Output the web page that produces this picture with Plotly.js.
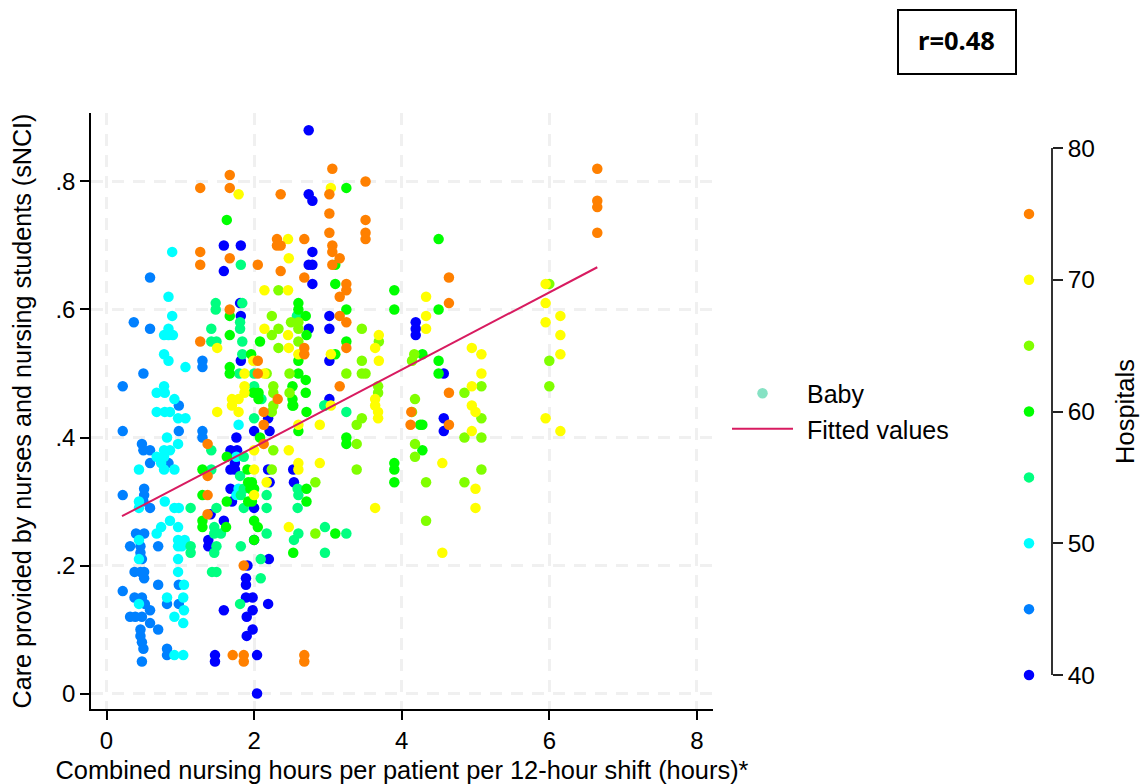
<!DOCTYPE html>
<html>
<head>
<meta charset="utf-8">
<script src="https://cdn.plot.ly/plotly-3.0.1.min.js"></script>
<style>html,body{margin:0;padding:0;background:#fff}
.legend .legendtext{transform:translateX(9px)}
.legend .scrollbox{clip-path:none !important}</style>
</head>
<body>
<div id="chart" style="width:1140px;height:784px"></div>
<script>
const hospitalBands = [40,45,50,55,60,65,70,75];
const bandColors = ['#0000ff','#0080ff','#00ffff','#00ff80','#00ff00','#80ff00','#ffff00','#ff8000'];
const group40 = [[2.74,.88],[2.74,.78],[2.79,.77],[2.79,.69],[2.74,.67],[2.79,.67],[2.79,.64],[3.02,.59],[2.74,.57],[3.02,.57],[3.02,.52],[3.02,.46],[4.19,.58],[4.19,.57],[4.19,.56],[4.57,.50],[4.57,.43],[4.57,.41],[1.59,.70],[1.82,.70],[1.59,.66],[1.81,.61],[1.82,.59],[1.82,.52],[1.76,.40],[2.0,.41],[2.21,.41],[2.19,.43],[1.68,.38],[1.77,.38],[1.74,.37],[1.74,.36],[1.68,.35],[1.74,.35],[1.68,.32],[2.19,.35],[2.21,.33],[2.53,.35],[2.54,.33],[2,.29],[1.7,.30],[1.59,.27],[1.38,.24],[1.38,.23],[2.2,.21],[1.91,.20],[1.89,.18],[1.89,.17],[1.89,.15],[1.98,.15],[2.19,.14],[1.59,.13],[1.98,.13],[1.9,.12],[1.98,.10],[1.9,.09],[1.47,.06],[1.47,.05],[2.04,.06],[2.04,0],[2,.24],[1.41,.28]];
const group45 = [[.59,.65],[.37,.58],[.59,.57],[1.3,.52],[1.3,.51],[.5,.50],[.22,.48],[.98,.45],[.22,.41],[.98,.41],[.48,.39],[.5,.38],[.59,.38],[.59,.36],[.84,.36],[.51,.32],[.51,.31],[.22,.31],[.5,.30],[.59,.29],[1.3,.41],[1.3,.40],[.4,.25],[.51,.25],[.32,.23],[.46,.23],[.7,.23],[.46,.22],[.48,.21],[.38,.19],[.46,.19],[.51,.19],[.51,.18],[.7,.17],[.22,.16],[.38,.15],[.48,.15],[.52,.14],[.59,.13],[.32,.12],[.39,.12],[.48,.12],[.59,.11],[.7,.10],[.46,.10],[.46,.09],[.48,.08],[.5,.07],[.48,.05],[.82,.07],[.82,.06],[.82,.14],[.98,.14],[.98,.17]];
const group50 = [[.89,.69],[.84,.62],[.89,.59],[.84,.57],[.78,.56],[.84,.56],[.90,.56],[.78,.53],[.84,.52],[1.07,.51],[.78,.48],[.68,.47],[.79,.47],[.92,.46],[.68,.44],[.79,.44],[.86,.44],[.97,.43],[1.07,.43],[.82,.40],[.97,.39],[.78,.38],[.86,.38],[.68,.37],[.78,.37],[.74,.36],[.78,.35],[.92,.35],[.44,.35],[.44,.30],[.44,.29],[.79,.30],[.92,.29],[.98,.29],[.86,.27],[.74,.26],[.68,.25],[.97,.26],[.97,.24],[1.06,.24],[.97,.23],[1.02,.23],[.44,.24],[.44,.21],[.97,.21],[.97,.19],[1.05,.17],[.82,.15],[1.04,.15],[.44,.14],[1.05,.13],[.92,.12],[1.04,.11],[.92,.06],[1.04,.06],[1.79,.42],[1.76,.37],[1.79,.32],[1.76,.31]];
const group55 = [[1.82,.67],[1.48,.61],[1.48,.60],[1.84,.61],[1.81,.58],[1.81,.57],[1.42,.57],[1.42,.55],[1.49,.55],[1.84,.55],[1.84,.53],[1.8,.50],[2.0,.50],[2.0,.48],[2.58,.59],[2.1,.46],[2.95,.45],[3.25,.44],[2,.43],[1.86,.37],[1.81,.34],[1.86,.32],[1.82,.31],[2.17,.31],[1.86,.29],[2.17,.29],[2.59,.32],[2.6,.31],[2.59,.29],[2.17,.25],[2.6,.25],[2.54,.24],[2.96,.26],[3.25,.25],[2.96,.22],[1.82,.23],[2.09,.21],[2.09,.18],[1.81,.14],[2.96,.45],[1.49,.29],[1.46,.26],[1.46,.25],[1.55,.25],[1.49,.23],[1.46,.22],[1.43,.19],[1.49,.19],[1.14,.29],[1.14,.23],[1.14,.22],[1.42,.38],[1.42,.35]];
const group60 = [[1.63,.74],[1.67,.59],[1.67,.56],[2.08,.55],[1.96,.53],[1.67,.51],[1.67,.50],[1.99,.47],[2.06,.46],[3.25,.79],[2.6,.61],[2.6,.60],[2.7,.59],[3.9,.63],[3.9,.60],[3.25,.60],[3.1,.64],[3.1,.67],[2.71,.56],[3.25,.55],[2.6,.52],[3.1,.53],[2.6,.50],[2.7,.49],[2.52,.48],[2.7,.47],[2.06,.47],[2.52,.46],[2.52,.45],[2.71,.44],[1.63,.37],[1.3,.35],[1.3,.31],[1.63,.30],[1.3,.27],[1.3,.26],[1.62,.26],[1.91,.35],[1.92,.33],[1.97,.33],[1.95,.32],[2,.32],[1.97,.30],[1.92,.30],[2,.27],[2.05,.26],[2,.24],[2.08,.40],[2.6,.41],[2.71,.32],[2.71,.30],[2.53,.22],[3.1,.25],[3.25,.40],[3.25,.39],[3.9,.36],[3.9,.35],[3.9,.33],[2.53,.45],[4.25,.42],[4.5,.71],[4.5,.60],[4.28,.53],[4.5,.52],[4.5,.50],[4.28,.42],[4.28,.38]];
const group65 = [[2.33,.63],[2.24,.59],[2.5,.58],[2.6,.58],[2.6,.57],[2.33,.57],[2.24,.56],[2.6,.55],[2.33,.54],[3.46,.57],[3.69,.55],[3.46,.52],[4.17,.53],[4.14,.52],[3.25,.50],[3.46,.50],[3.51,.50],[2.48,.50],[2.17,.50],[2.26,.48],[2.26,.47],[2.48,.47],[3.68,.48],[3.68,.47],[4.18,.46],[2.26,.45],[2.24,.44],[2.26,.38],[2.24,.35],[2.83,.33],[3.39,.42],[3.46,.43],[3.39,.39],[3.39,.35],[2.83,.25],[4.18,.39],[4.18,.37],[6,.64],[6,.52],[6,.48],[4.85,.47],[5.08,.48],[4.14,.44],[5.08,.43],[4.85,.40],[5.08,.40],[5.08,.35],[4.33,.33],[4.85,.33],[4.33,.27]];
const group70 = [[1.79,.78],[1.5,.54],[1.87,.50],[1.99,.52],[1.87,.48],[1.87,.47],[1.79,.46],[1.7,.46],[1.7,.45],[1.5,.44],[1.79,.44],[2.46,.71],[2.47,.68],[3.04,.79],[2.14,.63],[2.46,.63],[2.14,.57],[2.46,.56],[2.47,.54],[2.6,.53],[3.04,.53],[3.69,.56],[3.64,.54],[3.69,.52],[2.14,.50],[3.64,.46],[3.64,.45],[3.68,.44],[2,.38],[2.47,.38],[2.6,.42],[2.89,.42],[2.6,.36],[2.6,.35],[2.89,.36],[2,.35],[2.17,.33],[2,.31],[2.47,.26],[3.64,.29],[3.68,.43],[3.04,.45],[4.33,.62],[4.33,.59],[4.33,.57],[5.95,.64],[5.95,.61],[5.95,.58],[6.15,.59],[6.15,.56],[6.15,.53],[4.95,.54],[5.08,.53],[5.08,.50],[4.95,.48],[4.95,.45],[5,.44],[4.95,.41],[5.95,.43],[6.15,.41],[4.55,.36],[5,.32],[5,.29],[4.55,.22]];
const group75 = [[1.67,.81],[1.27,.79],[1.67,.79],[1.27,.69],[1.67,.68],[1.27,.67],[2.05,.67],[1.67,.60],[1.27,.55],[2.05,.52],[2.05,.50],[3.06,.82],[3.51,.80],[2.36,.78],[3.02,.78],[3.02,.75],[3.51,.74],[3.02,.72],[3.51,.72],[3.51,.71],[2.31,.71],[2.31,.70],[2.36,.70],[2.68,.71],[3.06,.70],[3.06,.69],[3.16,.68],[3.06,.67],[2.36,.66],[2.68,.65],[3.25,.64],[3.25,.63],[3.16,.62],[3.16,.59],[3.25,.58],[2.68,.54],[2.68,.53],[3.25,.54],[3.16,.48],[2.32,.46],[2.13,.44],[4.13,.44],[2.13,.42],[1.37,.39],[2.13,.39],[1.37,.34],[1.37,.31],[1.37,.28],[1.86,.20],[1.71,.06],[1.86,.06],[1.86,.05],[2.68,.06],[2.68,.05],[4.12,.42],[4.64,.65],[4.64,.61],[4.64,.47],[4.64,.42],[6.65,.82],[6.65,.77],[6.65,.76],[6.65,.72]];
const fitX = [0.21, 6.65];
const fitY = [0.277, 0.666];
const xTicks = [0,2,4,6,8];
const yTicks = [0,.2,.4,.6,.8];
const yTickLabels = ['0','.2','.4','.6','.8'];
const hospitalTicks = [40,50,60,70,80];
const groups = [group40,group45,group50,group55,group60,group65,group70,group75];

const W = 1140, H = 784;
const font = 'Liberation Sans, Arial, sans-serif';
const traces = groups.map((g,i)=>({
  type:'scatter', mode:'markers', x:g.map(p=>p[0]), y:g.map(p=>p[1]),
  marker:{color:bandColors[i], size:10.5, line:{width:0}}, showlegend:false, hoverinfo:'x+y'
}));
traces.push({type:'scatter',mode:'markers',x:[null],y:[null],name:'Baby',
  marker:{color:'#86e2c4',size:10.5,line:{width:0}},showlegend:true});
traces.push({type:'scatter',mode:'lines',x:fitX,y:fitY,name:'Fitted values',
  line:{color:'#d81b60',width:2},showlegend:true});
traces.push({type:'scatter',mode:'markers',xaxis:'x2',yaxis:'y2',cliponaxis:false,
  x:hospitalBands.map(()=>0.5),y:hospitalBands,
  marker:{color:bandColors,size:10.5,line:{width:0}},showlegend:false,hoverinfo:'y'});

const grid = {showgrid:true,gridcolor:'#f0f0f0',gridwidth:2.5,griddash:'12px,9px',zeroline:false};
const layout = {
  width:W,height:H,margin:{l:0,r:0,t:0,b:0},paper_bgcolor:'#fff',plot_bgcolor:'#fff',
  font:{family:font,size:24,color:'#000'},
  xaxis:Object.assign({domain:[91/W,713/W],range:[-0.21,8.218],tickmode:'array',tickvals:xTicks,
    ticks:'outside',ticklen:9,tickwidth:1.5,tickcolor:'#000',showline:true,linecolor:'#000',linewidth:1.5,
    tickfont:{size:24},anchor:'y',
    title:{text:'Combined nursing hours per patient per 12-hour shift (hours)*',font:{size:25.4},standoff:9}},grid),
  yaxis:Object.assign({domain:[1-709/H,1-113/H],range:[-0.0242,0.907],tickmode:'array',tickvals:yTicks,ticktext:yTickLabels,
    ticks:'outside',ticklen:9,tickwidth:1.5,tickcolor:'#000',showline:true,linecolor:'#000',linewidth:1.5,
    tickfont:{size:24},anchor:'x',
    title:{text:'Care provided by nurses and nursing students (sNCI)',font:{size:25.2},standoff:17}},grid),
  xaxis2:{domain:[1007/W,1051/W],range:[0,1],visible:false,anchor:'y2',fixedrange:true},
  yaxis2:{domain:[1-675/H,1-148/H],range:[40,80],side:'right',anchor:'x2',tickmode:'array',tickvals:hospitalTicks,
    ticks:'outside',ticklen:10,tickwidth:1.5,tickcolor:'#222',showline:true,linecolor:'#333',linewidth:1.5,showgrid:false,zeroline:false,
    tickfont:{size:24.5},title:{text:'Hospitals',font:{size:25.5},standoff:22}},
  legend:{x:727/W,y:1-370.5/H,xanchor:'left',yanchor:'top',itemwidth:61,bgcolor:'rgba(0,0,0,0)',font:{size:25},itemclick:false,itemdoubleclick:false},
  shapes:[{type:'rect',xref:'paper',yref:'paper',x0:898/W,x1:1016/W,y0:1-74/H,y1:1-10/H,line:{color:'#000',width:2},fillcolor:'#fff'}],
  annotations:[{xref:'paper',yref:'paper',x:956.5/W,y:1-40/H,text:'<b>r=0.48</b>',showarrow:false,xanchor:'center',yanchor:'middle',
    font:{family:'Noto Sans, Open Sans, sans-serif',size:25.5,color:'#000'}}]
};
Plotly.newPlot('chart',traces,layout,{displayModeBar:false,responsive:false});
</script>
</body>
</html>
